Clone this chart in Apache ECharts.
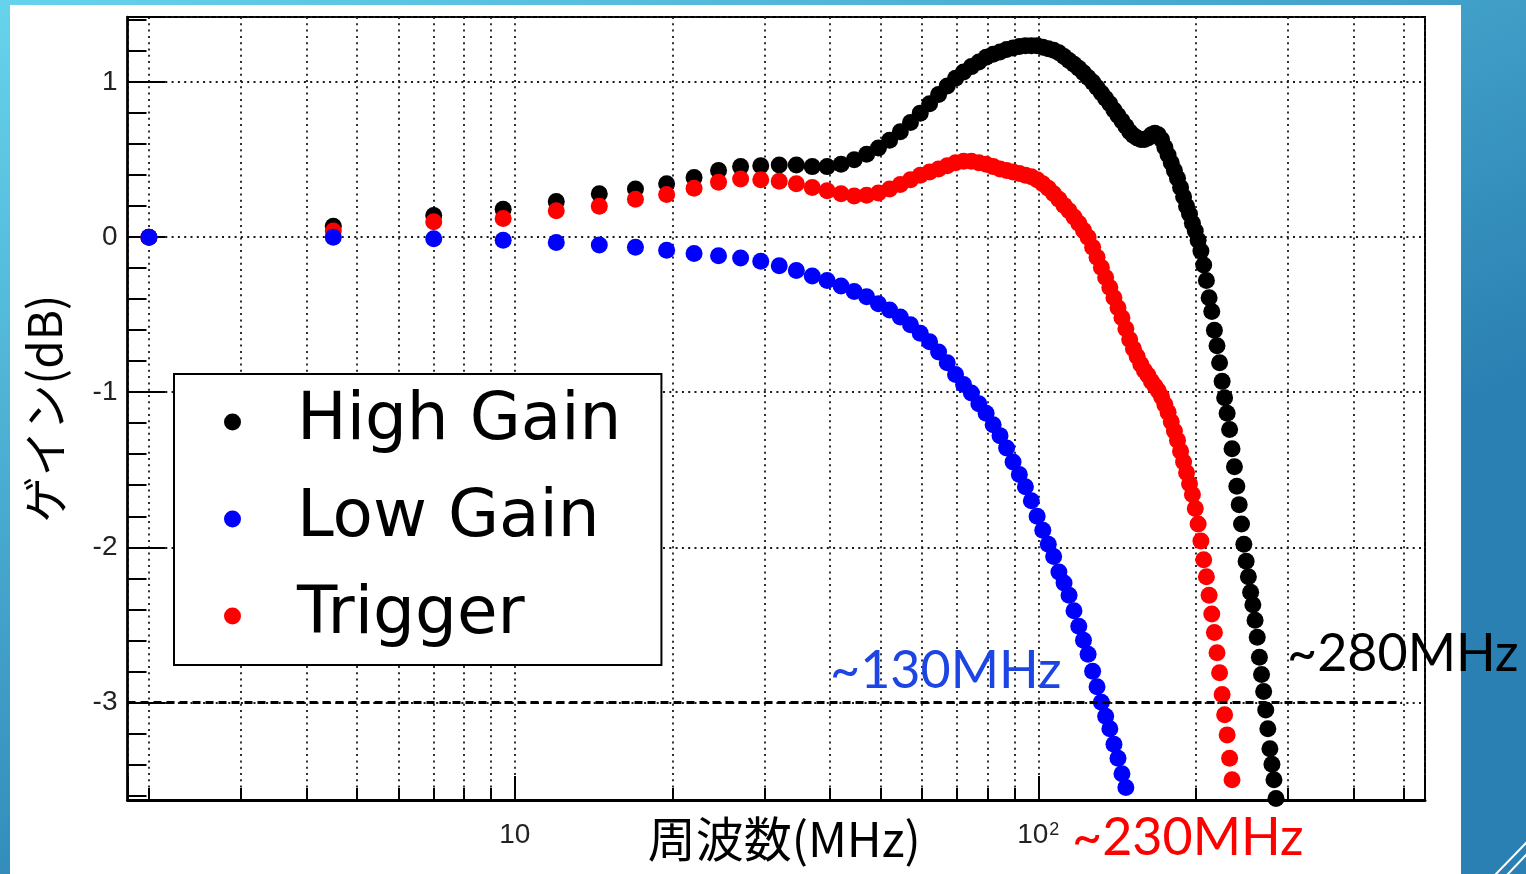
<!DOCTYPE html>
<html>
<head>
<meta charset="utf-8">
<title>ゲイン周波数特性</title>
<script src="https://cdn.jsdelivr.net/npm/echarts@6.0.0/dist/echarts.min.js"></script>
<style>
  html, body { margin: 0; padding: 0; background: #fff; }
  #main { width: 1526px; height: 874px; }
</style>
</head>
<body>
<div id="main"></div>
<script>
// 測定周波数 (MHz)
var freqMHz = [
  2, 4.5, 7, 9.5, 12, 14.5, 17, 19.5, 22, 24.5,
  27, 29.5, 32, 34.5, 37, 39.5, 42, 44.5, 47, 49.5,
  52, 54.5, 57, 59.5, 62, 64.5, 67, 69.5, 72, 74.5,
  77, 79.5, 82, 84.5, 87, 89.5, 92, 94.5, 97, 99.5,
  102, 104.5, 107, 109.5, 112, 114.5, 117, 119.5, 122, 124.5,
  127, 129.5, 132, 134.5, 137, 139.5, 142, 144.5, 147, 149.5,
  152, 154.5, 157, 159.5, 162, 164.5, 167, 169.5, 172, 174.5,
  177, 179.5, 182, 184.5, 187, 189.5, 192, 194.5, 197, 199.5,
  202, 204.5, 207, 209.5, 212, 214.5, 217, 219.5, 222, 224.5,
  227, 229.5, 232, 234.5, 237, 239.5, 242, 244.5, 247, 249.5,
  252, 254.5, 257, 259.5, 262, 264.5, 267, 269.5, 272, 274.5,
  277, 279.5, 282, 284.5
];

// ゲイン (dB)
var highGain = [
  0.0, 0.07, 0.14, 0.18, 0.23, 0.28, 0.31, 0.345, 0.385, 0.43,
  0.455, 0.46, 0.465, 0.465, 0.455, 0.455, 0.47, 0.50, 0.535, 0.575,
  0.625, 0.68, 0.74, 0.80, 0.86, 0.92, 0.975, 1.025, 1.065, 1.10,
  1.13, 1.16, 1.18, 1.195, 1.21, 1.22, 1.23, 1.235, 1.235, 1.235,
  1.225, 1.215, 1.205, 1.19, 1.165, 1.14, 1.115, 1.09, 1.06, 1.03,
  1.0, 0.965, 0.93, 0.895, 0.86, 0.82, 0.785, 0.75, 0.715, 0.68,
  0.655, 0.64, 0.63, 0.63, 0.64, 0.66, 0.67, 0.66, 0.63, 0.58,
  0.53, 0.48, 0.43, 0.38, 0.32, 0.26, 0.20, 0.15, 0.09, 0.04,
  -0.02, -0.09, -0.18, -0.28, -0.39, -0.48, -0.60, -0.70, -0.81, -0.93,
  -1.035, -1.135, -1.24, -1.365, -1.48, -1.607, -1.725, -1.85, -1.98, -2.09,
  -2.19, -2.29, -2.37, -2.47, -2.58, -2.71, -2.82, -2.93, -3.05, -3.17,
  -3.30, -3.40, -3.50, -3.62
];
var lowGain = [
  0.0, 0.0, -0.01, -0.02, -0.035, -0.05, -0.065, -0.085, -0.105, -0.12,
  -0.135, -0.155, -0.185, -0.215, -0.25, -0.28, -0.315, -0.35, -0.385, -0.43,
  -0.47, -0.515, -0.565, -0.62, -0.675, -0.74, -0.81, -0.885, -0.95, -1.005,
  -1.075, -1.135, -1.21, -1.28, -1.36, -1.45, -1.53, -1.61, -1.70, -1.80,
  -1.89, -1.98, -2.06, -2.16, -2.23, -2.31, -2.41, -2.51, -2.60, -2.69,
  -2.80, -2.90, -3.00, -3.09, -3.17, -3.27, -3.36, -3.46, -3.55
];
var triggerGain = [
  0.0, 0.04, 0.10, 0.12, 0.17, 0.20, 0.245, 0.275, 0.315, 0.355,
  0.375, 0.37, 0.36, 0.345, 0.32, 0.30, 0.28, 0.265, 0.27, 0.285,
  0.31, 0.34, 0.37, 0.40, 0.42, 0.44, 0.46, 0.48, 0.49, 0.49,
  0.48, 0.47, 0.455, 0.44, 0.43, 0.42, 0.41, 0.40, 0.39, 0.37,
  0.345, 0.315, 0.28, 0.245, 0.205, 0.17, 0.13, 0.09, 0.045, 0.0,
  -0.065, -0.13, -0.195, -0.26, -0.325, -0.39, -0.455, -0.52, -0.59, -0.66,
  -0.72, -0.77, -0.82, -0.86, -0.89, -0.93, -0.96, -0.99, -1.03, -1.08,
  -1.13, -1.19, -1.25, -1.31, -1.38, -1.45, -1.52, -1.59, -1.66, -1.75,
  -1.85, -1.96, -2.08, -2.19, -2.31, -2.43, -2.55, -2.68, -2.81, -2.95,
  -3.08, -3.21, -3.36, -3.50
];

var legendNames = ['High Gain', 'Low Gain', 'Trigger'];
var xRange = [1.82, 548];
var yRange = [-3.63, 1.42];
var cutoffDb = -3;
var cutoffEndMHz = 495;
var cutoffLabels = ['~130MHz', '~230MHz', '~280MHz'];

// 周波数と値を組にする
function _pairs(values) {
    var pts = [];
    for (var i = 0; i < values.length; i++) {
        pts.push([freqMHz[i], values[i]]);
    }
    return pts;
}

function _dotSeries(name, color, values) {
    return {
        name: name,
        type: 'scatter',
        symbol: 'circle',
        symbolSize: 17,
        itemStyle: { color: color, opacity: 1 },
        data: _pairs(values)
    };
}

function _drawGainChart() {
    var myChart = echarts.init(document.getElementById('main'), null, { renderer: 'canvas' });

    var dotted = { color: '#1a1a1a', width: 1.8, type: [2, 4.3] };
    var tickStyle = { color: '#000', width: 2 };
    var noteFont = '52px Lato, "Noto Sans", sans-serif';
    var dashStyle = { color: '#000', width: 3, type: [8, 5], opacity: 1 };

    var black = _dotSeries(legendNames[0], '#000000', highGain);
    // -3dB の破線
    black.markLine = {
        silent: true,
        symbol: 'none',
        label: { show: false },
        lineStyle: dashStyle,
        data: [[{ coord: [xRange[0], cutoffDb], lineStyle: dashStyle }, { coord: [cutoffEndMHz, cutoffDb] }]]
    };

    var option = {
        animation: false,
        graphic: [
            {
                type: 'rect', z: -100, silent: true,
                shape: { x: 0, y: 0, width: 1526, height: 874 },
                style: {
                    fill: new echarts.graphic.LinearGradient(0, 0, 0.25, 1, [
                        { offset: 0, color: '#66d3ec' },
                        { offset: 1, color: '#2a80b2' }
                    ])
                }
            },
            {
                type: 'rect', z: -99, silent: true,
                shape: { x: 10, y: 5, width: 1451, height: 869 },
                style: { fill: '#ffffff' }
            },
            { type: 'line', z: -98, silent: true, shape: { x1: 1527, y1: 842, x2: 1495, y2: 875 }, style: { stroke: '#fff', lineWidth: 2 } },
            { type: 'line', z: -98, silent: true, shape: { x1: 1527, y1: 854, x2: 1507, y2: 875 }, style: { stroke: '#fff', lineWidth: 2 } },
            {
                type: 'text', z: 100, silent: true, x: 830, y: 671,
                style: { text: cutoffLabels[0], font: noteFont, fill: '#1d45e3', align: 'left', verticalAlign: 'middle' }
            },
            {
                type: 'text', z: 100, silent: true, x: 1072, y: 838,
                style: { text: cutoffLabels[1], font: noteFont, fill: '#ff0000', align: 'left', verticalAlign: 'middle' }
            },
            {
                type: 'text', z: 100, silent: true, x: 1287, y: 654,
                style: { text: cutoffLabels[2], font: noteFont, fill: '#000000', align: 'left', verticalAlign: 'middle' }
            }
        ],
        grid: {
            left: 127.5, right: 101, top: 17, bottom: 74,
            containLabel: false, outerBoundsMode: 'none',
            show: true, borderColor: '#000', borderWidth: 2
        },
        legend: {
            data: legendNames,
            orient: 'vertical',
            left: 174, top: 374,
            icon: 'circle',
            itemWidth: 17, itemHeight: 17, itemGap: 31,
            padding: [15, 40, 16, 50],
            backgroundColor: '#fff', borderColor: '#000', borderWidth: 2,
            selectedMode: false,
            textStyle: { fontFamily: 'DejaVu Sans', fontSize: 66, color: '#000', padding: [0, 0, 0, 51] }
        },
        xAxis: {
            type: 'log', logBase: 10,
            min: xRange[0], max: xRange[1],
            name: '周波数(MHz)', nameLocation: 'middle', nameGap: 15, nameMoveOverlap: false,
            nameTextStyle: { fontFamily: 'Noto Sans CJK JP', fontSize: 48, color: '#000', verticalAlign: 'top', padding: [0, 0, 0, 16] },
            axisLine: { onZero: false, lineStyle: { color: '#000', width: 3 } },
            axisTick: { inside: true, length: 24, lineStyle: tickStyle },
            minorTick: { show: true, splitNumber: 9, length: 12, lineStyle: tickStyle },
            splitLine: { show: true, lineStyle: dotted },
            minorSplitLine: { show: true, lineStyle: dotted },
            axisLabel: {
                showMinLabel: false, showMaxLabel: false,
                margin: 21, fontFamily: 'Liberation Sans', fontSize: 28, color: '#222',
                formatter: function (value) {
                    var e = Math.round(Math.log(value) / Math.LN10);
                    return e === 1 ? '10' : '10{sup|' + e + '}';
                },
                rich: { sup: { fontFamily: 'Liberation Sans', fontSize: 18, color: '#222', verticalAlign: 'top', padding: [0, 0, 0, 1] } }
            }
        },
        yAxis: {
            type: 'value',
            min: yRange[0], max: yRange[1], splitNumber: 5,
            name: 'ゲイン(dB)', nameLocation: 'middle', nameRotate: 90, nameGap: 60, nameMoveOverlap: false,
            nameTextStyle: { fontFamily: 'Noto Sans CJK JP', fontSize: 46, color: '#000' },
            axisLine: { show: true, onZero: false, lineStyle: { color: '#000', width: 2.5 } },
            axisTick: { inside: true, length: 38, lineStyle: tickStyle },
            minorTick: { show: true, splitNumber: 5, length: 19, lineStyle: tickStyle },
            splitLine: { show: true, lineStyle: dotted },
            axisLabel: {
                showMinLabel: false, showMaxLabel: false,
                margin: 10, fontFamily: 'Liberation Sans', fontSize: 28, color: '#222'
            }
        },
        // 描画順: 黒, 赤, 青 (青が最前面)
        series: [
            black,
            _dotSeries(legendNames[2], '#ff0000', triggerGain),
            _dotSeries(legendNames[1], '#0000ff', lowGain)
        ]
    };
    myChart.setOption(option);
}

_drawGainChart();
</script>
</body>
</html>
